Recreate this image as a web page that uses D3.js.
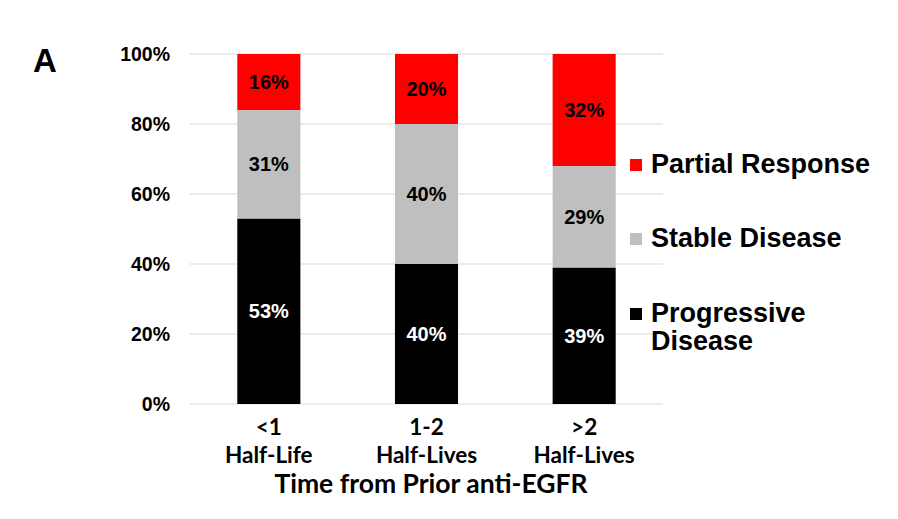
<!DOCTYPE html>
<html>
<head>
<meta charset="utf-8">
<script src="https://cdn.jsdelivr.net/npm/d3@7"></script>
<style>
  body { margin: 0; background: #fff; }
</style>
</head>
<body>
<div id="chart"></div>
<script>
let width = 898
let height = 519

// data
let categories = ['<1|Half-Life', '1-2|Half-Lives', '>2|Half-Lives']
let seriesNames = ['Progressive Disease', 'Stable Disease', 'Partial Response']
let progressive = [53, 40, 39]
let stable = [31, 40, 29]
let partial = [16, 20, 32]
let yTicks = [0, 20, 40, 60, 80, 100]

let colors = ['#000000', '#bfbfbf', '#ff0000']
let labelColors = ['#ffffff', '#000000', '#000000']

let rows = categories.map((c, i) => ({cat: c, 'Progressive Disease': progressive[i], 'Stable Disease': stable[i], 'Partial Response': partial[i]}))
let stacked = d3.stack().keys(seriesNames)(rows)

let svg = d3.select('#chart').append('svg')
            .attr('width', width)
            .attr('height', height)

let xScale = d3.scaleBand()
              .domain(categories)
              .range([190, 663])
              .paddingInner(0.6)
              .paddingOuter(0.3)

let yScale = d3.scaleLinear()
              .domain([0, 100])
              .range([404, 54])

// gridlines
svg.append('g')
   .selectAll('line')
   .data(yTicks)
   .enter()
   .append('line')
   .attr('x1', 190)
   .attr('x2', 663)
   .attr('y1', d => yScale(d))
   .attr('y2', d => yScale(d))
   .attr('stroke', '#d9d9d9')
   .attr('stroke-width', 1)

// y axis labels
let yAxis = d3.axisLeft(yScale).tickValues(yTicks).tickFormat(d => d + '%').tickSize(0).tickPadding(20)
let yG = svg.append('g')
   .attr('transform', 'translate(190, 0)')
   .call(yAxis)
yG.select('.domain').remove()
yG.selectAll('text')
  .attr('font-family', 'Liberation Sans, Arial, sans-serif')
  .attr('font-weight', 'bold')
  .attr('font-size', 19.5)
  .attr('fill', '#000')

// bars
let layers = svg.selectAll('.layer')
   .data(stacked)
   .enter()
   .append('g')
   .attr('class', 'layer')

layers.selectAll('rect')
   .data((d, i) => d.map(p => ({p: p, i: i})))
   .enter()
   .append('rect')
   .attr('x', d => xScale(d.p.data.cat))
   .attr('y', d => yScale(d.p[1]))
   .attr('width', xScale.bandwidth())
   .attr('height', d => yScale(d.p[0]) - yScale(d.p[1]))
   .attr('fill', d => colors[d.i])

layers.selectAll('text')
   .data((d, i) => d.map(p => ({p: p, i: i})))
   .enter()
   .append('text')
   .attr('x', d => xScale(d.p.data.cat) + xScale.bandwidth() / 2)
   .attr('y', d => yScale((d.p[0] + d.p[1]) / 2))
   .attr('dy', '0.36em')
   .attr('text-anchor', 'middle')
   .attr('font-family', 'Liberation Sans, Arial, sans-serif')
   .attr('font-weight', 'bold')
   .attr('font-size', 20)
   .attr('fill', d => labelColors[d.i])
   .text(d => (d.p[1] - d.p[0]) + '%')

// x category labels
let xLabels = svg.append('g')
   .selectAll('text')
   .data(categories)
   .enter()
   .append('text')
   .attr('x', d => xScale(d) + xScale.bandwidth() / 2)
   .attr('y', 435)
   .attr('text-anchor', 'middle')
   .attr('font-family', 'Lato, Open Sans, sans-serif')
   .attr('font-weight', 'bold')
   .attr('font-size', 22.5)
   .attr('fill', '#000')
xLabels.append('tspan')
   .attr('x', d => xScale(d) + xScale.bandwidth() / 2)
   .text(d => d.split('|')[0])
xLabels.append('tspan')
   .attr('x', d => xScale(d) + xScale.bandwidth() / 2)
   .attr('dy', 28)
   .text(d => d.split('|')[1])

// axis title
svg.append('text')
   .attr('x', 431)
   .attr('y', 493)
   .attr('text-anchor', 'middle')
   .attr('font-family', 'Lato, Open Sans, sans-serif')
   .attr('font-weight', 'bold')
   .attr('font-size', 26.5)
   .attr('fill', '#000')
   .text('Time from Prior anti-EGFR')

// panel letter
svg.append('text')
   .attr('x', 33)
   .attr('y', 72)
   .attr('font-family', 'Liberation Sans, Arial, sans-serif')
   .attr('font-weight', 'bold')
   .attr('font-size', 33)
   .attr('fill', '#000')
   .text('A')

// legend (top to bottom: partial, stable, progressive)
let legendItems = [
  {lines: ['Partial Response'], color: colors[2], y: 173},
  {lines: ['Stable Disease'], color: colors[1], y: 247},
  {lines: ['Progressive', 'Disease'], color: colors[0], y: 322}
]
let legend = svg.append('g')
   .selectAll('g')
   .data(legendItems)
   .enter()
   .append('g')
   .attr('transform', d => 'translate(630,' + d.y + ')')
legend.append('rect')
   .attr('x', 0)
   .attr('y', -14)
   .attr('width', 12)
   .attr('height', 12)
   .attr('fill', d => d.color)
let legendText = legend.append('text')
   .attr('x', 21)
   .attr('y', 0)
   .attr('font-family', 'Liberation Sans, Arial, sans-serif')
   .attr('font-weight', 'bold')
   .attr('font-size', 27)
   .attr('fill', '#000')
legendText.selectAll('tspan')
   .data(d => d.lines)
   .enter()
   .append('tspan')
   .attr('x', 21)
   .attr('dy', (d, i) => i === 0 ? 0 : 28)
   .text(d => d)
</script>
</body>
</html>
